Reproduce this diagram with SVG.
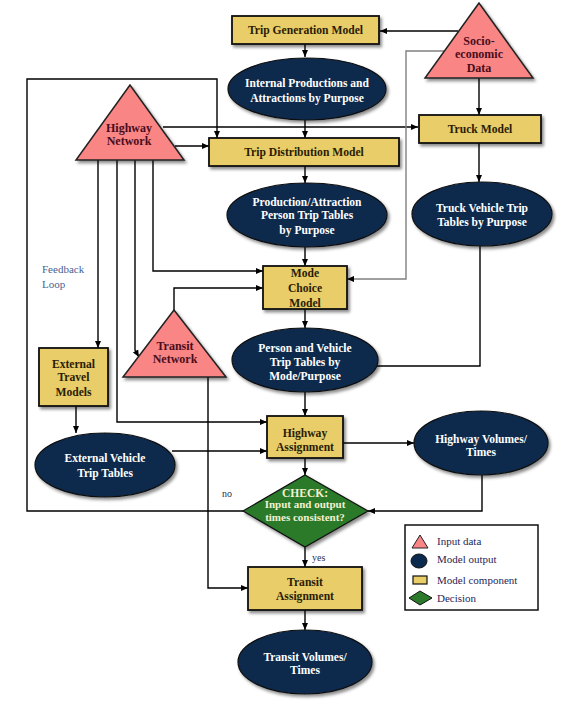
<svg xmlns="http://www.w3.org/2000/svg" width="571" height="713" viewBox="0 0 571 713">
<defs>
<filter id="sh" x="-20%" y="-20%" width="140%" height="150%">
<feDropShadow dx="2" dy="2.5" stdDeviation="1.5" flood-color="#000" flood-opacity="0.45"/>
</filter>
<marker id="ah" markerWidth="8" markerHeight="8" refX="7" refY="4" orient="auto" markerUnits="userSpaceOnUse">
<path d="M0,1 L7,4 L0,7 Z" fill="#000"/>
</marker>
</defs>
<style>
.box{fill:#e8cd68;stroke:#111;stroke-width:1.8;filter:url(#sh)}
.ell{fill:#0c2a4e;stroke:#111;stroke-width:1.2;filter:url(#sh)}
.tri{fill:#f98585;stroke:#222;stroke-width:1.5;filter:url(#sh)}
.dia{fill:#2b7a2b;stroke:#111;stroke-width:1.2;filter:url(#sh)}
.bt{font-family:"Liberation Serif",serif;font-weight:bold;font-size:11.6px;fill:#2a1c05;text-anchor:middle}
.et{font-family:"Liberation Serif",serif;font-weight:bold;font-size:11.5px;fill:#fff;text-anchor:middle}
.dt{font-family:"Liberation Serif",serif;font-weight:bold;font-size:11px;fill:#f4f0d2;text-anchor:middle}
.tt{font-family:"Liberation Serif",serif;font-weight:bold;font-size:12px;fill:#4a0d1c;text-anchor:middle}
.lt{font-family:"Liberation Serif",serif;font-size:11px;fill:#1f2656}
.fb{font-family:"Liberation Serif",serif;font-size:11px;fill:#4a6290}
.c{fill:none;stroke:#000;stroke-width:1.4}
.ca{fill:none;stroke:#000;stroke-width:1.4;marker-end:url(#ah)}
.cg{fill:none;stroke:#808080;stroke-width:1.4;marker-end:url(#ah)}
</style>
<g id="connectors">
<path class="ca" d="M458,31 L380,31"/>
<path class="ca" d="M305,44 L305,57"/>
<path class="ca" d="M305,120 L305,138"/>
<path class="ca" d="M243,511 L27,511 L27,79 L217,79 L217,138"/>
<path class="ca" d="M163,127 L418,127"/>
<path class="ca" d="M175,146 L209,146"/>
<path class="cg" d="M444,51 L406,51 L406,279 L347,279"/>
<path class="ca" d="M479,78 L479,115"/>
<path class="ca" d="M305,166 L305,183"/>
<path class="ca" d="M479,143 L479,182"/>
<path class="ca" d="M305,247 L305,266"/>
<path class="ca" d="M153,160 L153,271 L263,271"/>
<path class="ca" d="M174,310 L174,288 L263,288"/>
<path class="ca" d="M135,160 L135,350 L139,357"/>
<path class="ca" d="M98,160 L98,348"/>
<path class="ca" d="M117,160 L117,422 L267,422"/>
<path class="ca" d="M305,309 L305,328"/>
<path class="c" d="M480,246 L480,366 L377,366"/>
<path class="ca" d="M305,392 L305,416"/>
<path class="ca" d="M76,406 L76,433"/>
<path class="ca" d="M172,451 L267,451"/>
<path class="ca" d="M343,443 L414,443"/>
<path class="ca" d="M305,458 L305,475"/>
<path class="ca" d="M482,475 L482,511 L368,511"/>
<path class="ca" d="M208,377 L208,588 L248,588"/>
<path class="ca" d="M305,547 L305,567"/>
<path class="ca" d="M305,610 L305,630"/>
</g>
<g id="trip-generation">
<rect class="box" x="232" y="16" width="147" height="28"/>
<text class="bt" x="305.5" y="34">Trip Generation Model</text>
</g>
<g id="socio-economic">
<polygon class="tri" points="479,3 425,78 533,78"/>
<text class="tt" x="479" y="45">Socio-</text>
<text class="tt" x="479" y="58">economic</text>
<text class="tt" x="479" y="72">Data</text>
</g>
<g id="internal-productions">
<ellipse class="ell" cx="307" cy="89" rx="79" ry="31"/>
<text class="et" x="307" y="87">Internal Productions and</text>
<text class="et" x="307" y="102">Attractions by Purpose</text>
</g>
<g id="highway-network">
<polygon class="tri" points="130,85 76,160 184,160"/>
<text class="tt" x="129" y="132">Highway</text>
<text class="tt" x="129" y="145">Network</text>
</g>
<g id="trip-distribution">
<rect class="box" x="209" y="138" width="190" height="28"/>
<text class="bt" x="304" y="156">Trip Distribution Model</text>
</g>
<g id="truck-model">
<rect class="box" x="419" y="115" width="122" height="28"/>
<text class="bt" x="480" y="133">Truck Model</text>
</g>
<g id="production-attraction">
<ellipse class="ell" cx="307" cy="215" rx="80" ry="32"/>
<text class="et" x="307" y="206">Production/Attraction</text>
<text class="et" x="307" y="219">Person Trip Tables</text>
<text class="et" x="307" y="234">by Purpose</text>
</g>
<g id="truck-vehicle">
<ellipse class="ell" cx="482" cy="214" rx="70" ry="32"/>
<text class="et" x="482" y="212">Truck Vehicle Trip</text>
<text class="et" x="482" y="226">Tables by Purpose</text>
</g>
<g id="feedback-label">
<text class="fb" x="42" y="273">Feedback</text>
<text class="fb" x="42" y="288">Loop</text>
</g>
<g id="mode-choice">
<rect class="box" x="263" y="266" width="84" height="43"/>
<text class="bt" x="305" y="277">Mode</text>
<text class="bt" x="305" y="292">Choice</text>
<text class="bt" x="305" y="307">Model</text>
</g>
<g id="transit-network">
<polygon class="tri" points="174,310 123,377 226,377"/>
<text class="tt" x="175" y="350">Transit</text>
<text class="tt" x="175" y="363">Network</text>
</g>
<g id="external-travel">
<rect class="box" x="39" y="348" width="69" height="58"/>
<text class="bt" x="73.5" y="368">External</text>
<text class="bt" x="73.5" y="381">Travel</text>
<text class="bt" x="73.5" y="396">Models</text>
</g>
<g id="person-vehicle">
<ellipse class="ell" cx="305" cy="360" rx="73" ry="32"/>
<text class="et" x="305" y="352">Person and Vehicle</text>
<text class="et" x="305" y="366">Trip Tables by</text>
<text class="et" x="305" y="380">Mode/Purpose</text>
</g>
<g id="highway-assignment">
<rect class="box" x="267" y="416" width="76" height="42"/>
<text class="bt" x="305" y="437">Highway</text>
<text class="bt" x="305" y="451">Assignment</text>
</g>
<g id="highway-volumes">
<ellipse class="ell" cx="481" cy="443" rx="67" ry="32"/>
<text class="et" x="481" y="443">Highway Volumes/</text>
<text class="et" x="481" y="456">Times</text>
</g>
<g id="external-vehicle">
<ellipse class="ell" cx="105" cy="465" rx="70" ry="32"/>
<text class="et" x="105" y="462">External Vehicle</text>
<text class="et" x="105" y="477">Trip Tables</text>
</g>
<g id="check">
<polygon class="dia" points="305,475 368,511 305,547 243,511"/>
<text class="dt" x="305" y="497" style="font-size:11.5px">CHECK:</text>
<text class="dt" x="305" y="508">Input and output</text>
<text class="dt" x="305" y="521">times consistent?</text>
</g>
<text x="222" y="497" style="font-family:'Liberation Serif',serif;font-size:10px;fill:#2a3050">no</text>
<text x="312" y="561" style="font-family:'Liberation Serif',serif;font-size:10px;fill:#2a3050">yes</text>
<g id="transit-assignment">
<rect class="box" x="248" y="567" width="114" height="43"/>
<text class="bt" x="305" y="586">Transit</text>
<text class="bt" x="305" y="600">Assignment</text>
</g>
<g id="transit-volumes">
<ellipse class="ell" cx="305" cy="662" rx="67" ry="32"/>
<text class="et" x="305" y="661">Transit Volumes/</text>
<text class="et" x="305" y="674">Times</text>
</g>
<g id="legend">
<rect x="405" y="525" width="133" height="85" fill="#fff" stroke="#111" stroke-width="1.5"/>
<polygon points="420,535 412,548 428,548" fill="#f98585" stroke="#222" stroke-width="1"/>
<text class="lt" x="437" y="545">Input data</text>
<ellipse cx="419" cy="561" rx="8" ry="7" fill="#0c2a4e" stroke="#111" stroke-width="1"/>
<text class="lt" x="437" y="563">Model output</text>
<rect x="413" y="576" width="14" height="8" fill="#e8cd68" stroke="#111" stroke-width="1.2"/>
<text class="lt" x="437" y="584">Model component</text>
<polygon points="409,598 420,591 432,598 420,605" fill="#2b7a2b" stroke="#111" stroke-width="1"/>
<text class="lt" x="437" y="602">Decision</text>
</g>
</svg>
